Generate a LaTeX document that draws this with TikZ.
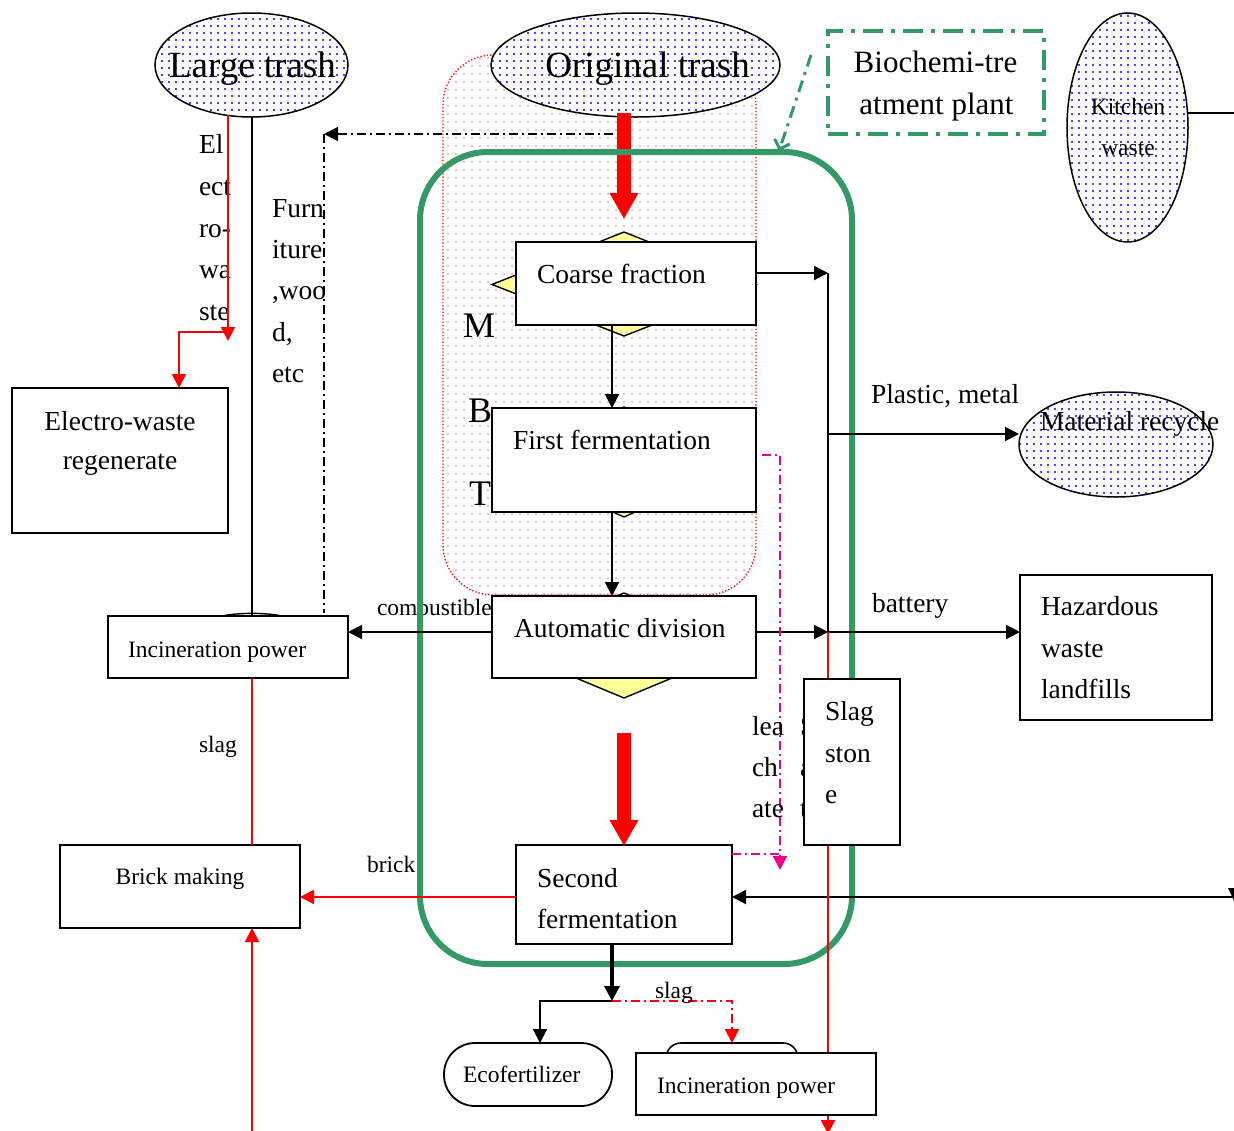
\documentclass[tikz,border=0pt]{standalone}
\usepackage{fontspec}
\setmainfont{Liberation Serif}
\usetikzlibrary{arrows.meta,patterns.meta,shapes.geometric,calc}
\definecolor{plantgreen}{RGB}{51,153,102}
\definecolor{lightyellow}{RGB}{255,255,153}
\definecolor{mbtpink}{RGB}{255,120,120}
\definecolor{dotblue}{RGB}{0,0,255}
\begin{document}
\begin{tikzpicture}[x=1pt,y=-1pt,
  every node/.style={inner sep=0pt,outer sep=0pt},
  box/.style={draw,fill=white,line width=1.8pt,anchor=north west},
  source/.style={ellipse,draw,line width=1.5pt,preaction={fill=white},
    pattern={Dots[distance=6.5pt,radius=1.2pt]},pattern color=dotblue},
  tmain/.style={font=\fontsize{27.5}{33}\selectfont,anchor=base west},
  tmainc/.style={font=\fontsize{27.5}{33}\selectfont,anchor=base},
  tsmall/.style={font=\fontsize{23.5}{28}\selectfont,anchor=base west},
  tsmallc/.style={font=\fontsize{23.5}{28}\selectfont,anchor=base},
  tbig/.style={font=\fontsize{37}{44}\selectfont,anchor=base},
  tmbt/.style={font=\fontsize{36}{43}\selectfont,anchor=base west},
  tplant/.style={font=\fontsize{31}{37}\selectfont,anchor=base},
  conn/.style={line width=2pt},
  tip/.style={-{Triangle[length=14pt,width=14pt]}},
  arr/.style={conn,tip},
  fatarrow/.style={red,line width=14pt,-{Triangle[length=26pt,width=27pt]}},
  dashdot/.style={dash pattern=on 9pt off 4pt on 2pt off 4pt},
  yellowdiamond/.style={draw,line width=1.4pt,fill=lightyellow},
]
\useasboundingbox (0,0) rectangle (1234,1130);
\fill[white] (0,0) rectangle (1234,1130);

% junction and free-end coordinates
\coordinate (xcol) at (612,0);
\coordinate (lx) at (252,0);
\coordinate (jA) at (828,273);
\coordinate (jB) at (828,434);
\coordinate (jC) at (828,632);
\coordinate (redEnd) at (828,1134);
\coordinate (ddStart) at (613,134);
\coordinate (ddTurn) at (324,134);
\coordinate (ddEnd) at (324,613);
\coordinate (eTop) at (228,115);
\coordinate (eDrop) at (228,341);
\coordinate (eSplit) at (228,332);
\coordinate (eIn) at (179,388);
\coordinate (fa1) at (624,113);
\coordinate (fa2) at (624,219);
\coordinate (fb1) at (624,733);
\coordinate (fb2) at (624,846);
\coordinate (yb) at (0,897);
\coordinate (bEdge) at (252,1134);
\coordinate (rEdge) at (1236,897);
\coordinate (kEdge) at (1236,113);
\coordinate (m1) at (762,455);
\coordinate (m2) at (780,455);
\coordinate (m3) at (780,870);
\coordinate (mJ) at (780,854);
\coordinate (split) at (612,1001);
\coordinate (ecoIn) at (540,1043);
\coordinate (incBin) at (732,1043);
\coordinate (gA) at (811,55);
\coordinate (gB) at (779,151);

% MBT region
\node[draw=red,dotted,line width=1.3pt,rounded corners=50pt,
  pattern={Dots[distance=8pt,radius=0.8pt]},pattern color=mbtpink,
  minimum width=313,minimum height=540,anchor=north west] (mbt) at (443,55) {};
\node[tmbt] (mLetter) at (463,337) {M};
\node[tmbt] (bLetter) at (468,422) {B};
\node[tmbt] (tLetter) at (469,505) {T};

% sources
\node[source,minimum width=193,minimum height=104] (large) at (251.5,65) {};
\node[source,minimum width=289,minimum height=104] (orig) at (635.5,65) {};
\node[source,minimum width=121,minimum height=229] (kitchen) at (1127.5,127.5) {};
\node[tbig] (largeTxt) at (252.5,77) {Large trash};
\node[tbig] (origTxt) at (647.5,77) {Original trash};
\node[tsmallc] (kitTxt1) at (1128,114) {Kitchen};
\node[tsmallc] (kitTxt2) at (1128,155) {waste};

% furniture route
\draw[line width=1.6pt,dashdot,tip] (ddStart) -- (ddTurn);
\draw[line width=1.6pt,dashdot] (ddTurn) -- (ddEnd);

% main feed
\draw[fatarrow] (fa1) -- (fa2);

% process chain
\draw[yellowdiamond] (624,232) -- (756,284.5) -- (624,336) -- (492,284.5) -- cycle;
\draw[yellowdiamond] (624,407) -- (744,462) -- (624,517) -- (504,462) -- cycle;
\draw[yellowdiamond] (624,593) -- (750,645.5) -- (624,698) -- (498,645.5) -- cycle;
\node[box,minimum width=240,minimum height=83] (coarse) at (516,242) {};
\node[box,minimum width=264,minimum height=104] (first) at (492,408) {};
\node[box,minimum width=264,minimum height=82] (auto) at (492,596) {};
\node[box,minimum width=216,minimum height=99] (second) at (516,845) {};
\node[tmain] (coarseTxt) at (537,283) {Coarse fraction};
\node[tmain] (firstTxt) at (513,449) {First fermentation};
\node[tmain] (autoTxt) at (514,637) {Automatic division};
\node[tmain] (secTxt1) at (537,887) {Second};
\node[tmain] (secTxt2) at (537,928) {fermentation};
\draw[fatarrow] (fb1) -- (fb2);

% left side
\node[box,minimum width=216,minimum height=145] (electro) at (12,388) {};
\node[tmainc] (elTxt1) at (120,430) {Electro-waste};
\node[tmainc] (elTxt2) at (120,469) {regenerate};
\draw[line width=1.4pt] (222,616) .. controls (238,612.5) and (266,612.5) .. (282,616);
\node[box,minimum width=240,minimum height=62] (incL) at (108,616) {};
\node[tsmall] (incLTxt) at (128,657) {Incineration power};
\node[box,minimum width=240,minimum height=83] (brick) at (60,845) {};
\node[tsmallc] (brickTxt) at (180,884) {Brick making};

\node[tmain] (ew1) at (199,153) {El};
\node[tmain] (ew2) at (199,195) {ect};
\node[tmain] (ew3) at (199,237) {ro-};
\node[tmain] (ew4) at (199,278) {wa};
\node[tmain] (ew5) at (199,320) {ste};
\begin{scope}
  \clip (260,180) rectangle (324.5,400);
  \node[tmain] (fw1) at (272,217) {Furn};
  \node[tmain] (fw2) at (272,258) {iture};
  \node[tmain] (fw3) at (272,299) {,woo};
  \node[tmain] (fw4) at (272,341) {d,};
  \node[tmain] (fw5) at (272,382) {etc};
\end{scope}
\node[tsmall] (combTxt) at (377,615) {combustible};

% electro-waste and large trash links
\draw[conn] (large.south -| lx) -- (incL.north -| lx);
\draw[red,arr] (eTop) -- (eDrop);
\draw[red,arr] (eSplit) -| (eIn);

% plant outline
\node[draw=plantgreen,line width=6pt,rounded corners=68pt,
  minimum width=432,minimum height=812,anchor=north west] (plant) at (420,152) {};

% sorting links
\draw[arr] (coarse.south -| xcol) -- (first.north -| xcol);
\draw[arr] (first.south -| xcol) -- (auto.north -| xcol);
\draw[arr] (coarse.east |- jA) -- (jA);
\draw[conn] (jA) -- (jC);
\draw[arr] (auto.east |- jC) -- (jC);
\draw[arr] (auto.west |- jC) -- (incL.east |- jC);
\draw[red,conn] (incL.south -| lx) -- (brick.north -| lx);
\draw[red,arr] (second.west |- yb) -- (brick.east |- yb);
\draw[red,arr] (bEdge) -- (brick.south -| bEdge);
\draw[arr] (rEdge) -- (second.east |- rEdge);
\fill (1228,888) -- (1242,888) -- (1235,903) -- cycle;
\draw[magenta,line width=2.3pt,dashdot,tip] (m1) -- (m2) -- (m3);
\draw[magenta,line width=2.3pt,dashdot] (second.north east |- mJ) -- (mJ);

% recycling and hazardous outputs
\node[source,minimum width=194,minimum height=105] (recycle) at (1116,444.5) {};
\node[tmain] (recTxt) at (1040,430) {Material recycle};
\draw[arr] (jB) -- (recycle.west |- jB);
\node[tmain] (plasticTxt) at (871,403) {Plastic, metal};
\node[box,minimum width=192,minimum height=145] (hazard) at (1020,575) {};
\node[tmain] (hzTxt1) at (1041,615) {Hazardous};
\node[tmain] (hzTxt2) at (1041,657) {waste};
\node[tmain] (hzTxt3) at (1041,698) {landfills};
\draw[arr] (jC) -- (hazard.west |- jC);
\node[tmain] (batTxt) at (872,612) {battery};
\draw[red,arr] (jC) -- (redEnd);
\draw[conn] (kitchen.east |- kEdge) -- (kEdge);

% leachate and slag stone
\node[tmain] (leTxt1) at (752,735) {lea};
\node[tmain] (leTxt2) at (752,776) {ch};
\node[tmain] (leTxt3) at (752,817) {ate};
\node[tmain] (hidTxt1) at (800,735) {S};
\node[tmain] (hidTxt2) at (800,776) {a};
\node[tmain] (hidTxt3) at (800,817) {t};
\node[box,minimum width=96,minimum height=166] (slagbox) at (804,679) {};
\node[tmain] (slTxt1) at (825,720) {Slag};
\node[tmain] (slTxt2) at (825,762) {ston};
\node[tmain] (slTxt3) at (825,803) {e};

% residue handling
\draw[line width=3.5pt,-{Triangle[length=15pt,width=15pt]}] (second.south -| xcol) -- (split);
\node[draw,line width=1.8pt,fill=white,rounded corners=31pt,
  minimum width=168,minimum height=63,anchor=north west] (eco) at (444,1043) {};
\node[tsmall] (ecoTxt) at (463,1082) {Ecofertilizer};
\draw[line width=1.6pt,fill=white,rounded corners=15pt] (666,1043) rectangle (798,1078);
\node[box,minimum width=240,minimum height=62] (incB) at (636,1053) {};
\node[tsmall] (incBTxt) at (657,1093) {Incineration power};
\draw[arr] (split) -| (ecoIn);
\draw[red,conn,dashdot,tip] (split) -| (incBin);

% labels on links
\node[tsmall] (slagL) at (199,752) {slag};
\node[tsmall] (brickL) at (367,872) {brick};
\node[tsmall] (slagB) at (655,998) {slag};

% plant label
\node[draw=plantgreen,line width=4pt,dash pattern=on 20pt off 8pt on 4pt off 8pt,
  minimum width=216,minimum height=103,anchor=north west] (bio) at (828,31) {};
\node[tplant] (bioTxt1) at (935.5,72) {Biochemi-tre};
\node[tplant] (bioTxt2) at (936.5,114) {atment plant};
\draw[plantgreen,line width=3pt,dash pattern=on 12pt off 6pt on 3pt off 6pt,
  -{Straight Barb[length=8pt,width=16pt]}] (gA) -- (gB);
\end{tikzpicture}
\end{document}
